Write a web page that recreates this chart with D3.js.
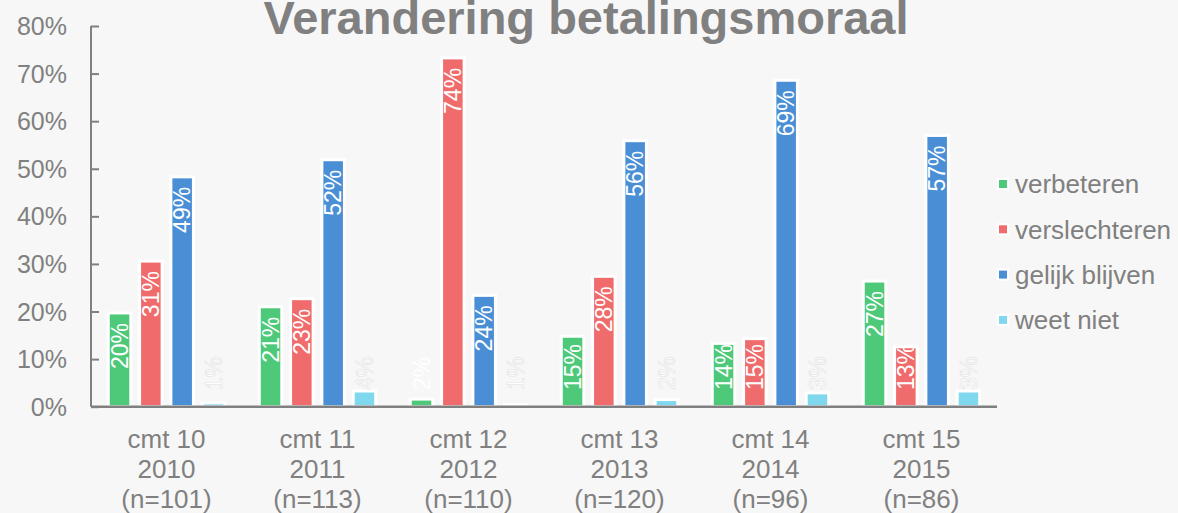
<!DOCTYPE html>
<html>
<head>
<meta charset="utf-8">
<script src="https://cdn.jsdelivr.net/npm/d3@7"></script>
<style>
  body { margin: 0; background: #f7f7f7; }
  svg { display: block; font-family: "Liberation Sans", Arial, sans-serif; }
</style>
</head>
<body>
<div class="chart"></div>
<script>
let categories = [
    ["cmt 10", "2010", "(n=101)"],
    ["cmt 11", "2011", "(n=113)"],
    ["cmt 12", "2012", "(n=110)"],
    ["cmt 13", "2013", "(n=120)"],
    ["cmt 14", "2014", "(n=96)"],
    ["cmt 15", "2015", "(n=86)"]
];
let series = ["verbeteren", "verslechteren", "gelijk blijven", "weet niet"];
let colors = ["#4ec97a", "#f06c6c", "#4a8fd6", "#80d8ee"];

// bar heights (%)
let verbeteren    = [19.7, 21.0, 1.6, 14.8, 13.3, 26.4];
let verslechteren = [30.6, 22.7, 73.3, 27.4, 14.3, 12.6];
let gelijk        = [48.3, 51.9, 23.4, 55.9, 68.6, 57.0];
let weetNiet      = [0.8, 3.3, 0.5, 1.5, 2.9, 3.3];

// data labels as printed on the bars
let lblVerbeteren    = [20, 21, 2, 15, 14, 27];
let lblVerslechteren = [31, 23, 74, 28, 15, 13];
let lblGelijk        = [49, 52, 24, 56, 69, 57];
let lblWeetNiet      = [1, 4, 1, 2, 3, 3];

let yTicks = [0, 10, 20, 30, 40, 50, 60, 70, 80];

let values = [verbeteren, verslechteren, gelijk, weetNiet];
let labels = [lblVerbeteren, lblVerslechteren, lblGelijk, lblWeetNiet];

let W = 1178, H = 513;
let gray = "#808080";

let svg = d3.select(".chart").append("svg")
    .attr("width", W)
    .attr("height", H);

svg.append("rect").attr("width", W).attr("height", H).attr("fill", "#f7f7f7");

let yScale = d3.scaleLinear().domain([0, 80]).range([406.7, 26]);
let x0 = d3.scaleBand().domain(d3.range(categories.length)).range([91, 997]);
let x1 = d3.scaleBand().domain(d3.range(series.length)).range([8.5, 142.5]).padding(0.28);

// title (top is clipped by the edge, as in the original)
svg.append("text")
    .attr("x", 586).attr("y", 34)
    .attr("text-anchor", "middle")
    .attr("font-size", 47).attr("font-weight", "bold")
    .attr("fill", gray)
    .text("Verandering betalingsmoraal");

// y axis
let yAxis = d3.axisRight(yScale).tickValues(yTicks).tickSize(8).tickFormat("");
let yg = svg.append("g").attr("transform", "translate(91,0)").call(yAxis);
yg.select(".domain").attr("stroke", gray).attr("stroke-width", 2).attr("d", `M0,${yScale(80)}V${yScale(0)}`);
yg.selectAll(".tick line").attr("stroke", gray).attr("stroke-width", 2);

svg.selectAll(".ylab")
    .data(yTicks)
    .enter().append("text")
    .attr("class", "ylab")
    .attr("x", 67).attr("y", d => yScale(d))
    .attr("dy", "0.36em")
    .attr("text-anchor", "end")
    .attr("font-size", 25)
    .attr("fill", gray)
    .text(d => d + "%");

// bars
let rows = [];
categories.forEach((c, i) => {
    series.forEach((s, j) => {
        rows.push({ i: i, j: j, v: values[j][i], l: labels[j][i] });
    });
});

let bars = svg.append("g");
bars.selectAll("rect")
    .data(rows)
    .enter().append("rect")
    .attr("x", d => x0(d.i) + x1(d.j))
    .attr("y", d => yScale(d.v))
    .attr("width", x1.bandwidth())
    .attr("height", d => yScale(0) - yScale(d.v))
    .attr("fill", d => colors[d.j])
    .attr("stroke", "#fff")
    .attr("stroke-width", 3);

// x axis line
svg.append("line")
    .attr("x1", 91).attr("x2", 997)
    .attr("y1", yScale(0)).attr("y2", yScale(0))
    .attr("stroke", gray).attr("stroke-width", 2.5);

// data labels
let labelG = svg.append("g");
rows.forEach(d => {
    let cx = x0(d.i) + x1(d.j) + x1.bandwidth() / 2;
    let t = labelG.append("text")
        .attr("font-size", 23)
        .attr("text-anchor", "end")
        .attr("dy", "0.36em")
        .text(d.l + "%");
    let len = t.node().getComputedTextLength();
    let top = Math.min(yScale(d.v) + 10, 390 - len);
    t.attr("transform", `translate(${cx},${top}) rotate(-90)`);
    if (d.j === 3) {
        t.attr("fill", "#fefefe").attr("stroke", "#e3e3e3").attr("stroke-width", 0.6);
    } else {
        t.attr("fill", "#fff");
    }
});

// x labels
let xl = svg.selectAll(".xlab")
    .data(categories)
    .enter().append("text")
    .attr("class", "xlab")
    .attr("text-anchor", "middle")
    .attr("font-size", 26)
    .attr("fill", gray);
xl.selectAll("tspan")
    .data((d, i) => d.map(t => ({ t: t, i: i })))
    .enter().append("tspan")
    .attr("x", d => x0(d.i) + x0.bandwidth() / 2)
    .attr("y", (d, k) => 448 + k * 30)
    .text(d => d.t);

// legend
let legend = svg.append("g");
series.forEach((s, j) => {
    let cy = 184 + j * 45.3;
    legend.append("rect")
        .attr("x", 998).attr("y", cy - 5)
        .attr("width", 10).attr("height", 10)
        .attr("fill", colors[j])
        .attr("stroke", "#fff").attr("stroke-width", 2);
    legend.append("text")
        .attr("x", 1015).attr("y", cy)
        .attr("dy", "0.36em")
        .attr("font-size", 26)
        .attr("fill", gray)
        .text(s);
});
</script>
</body>
</html>
